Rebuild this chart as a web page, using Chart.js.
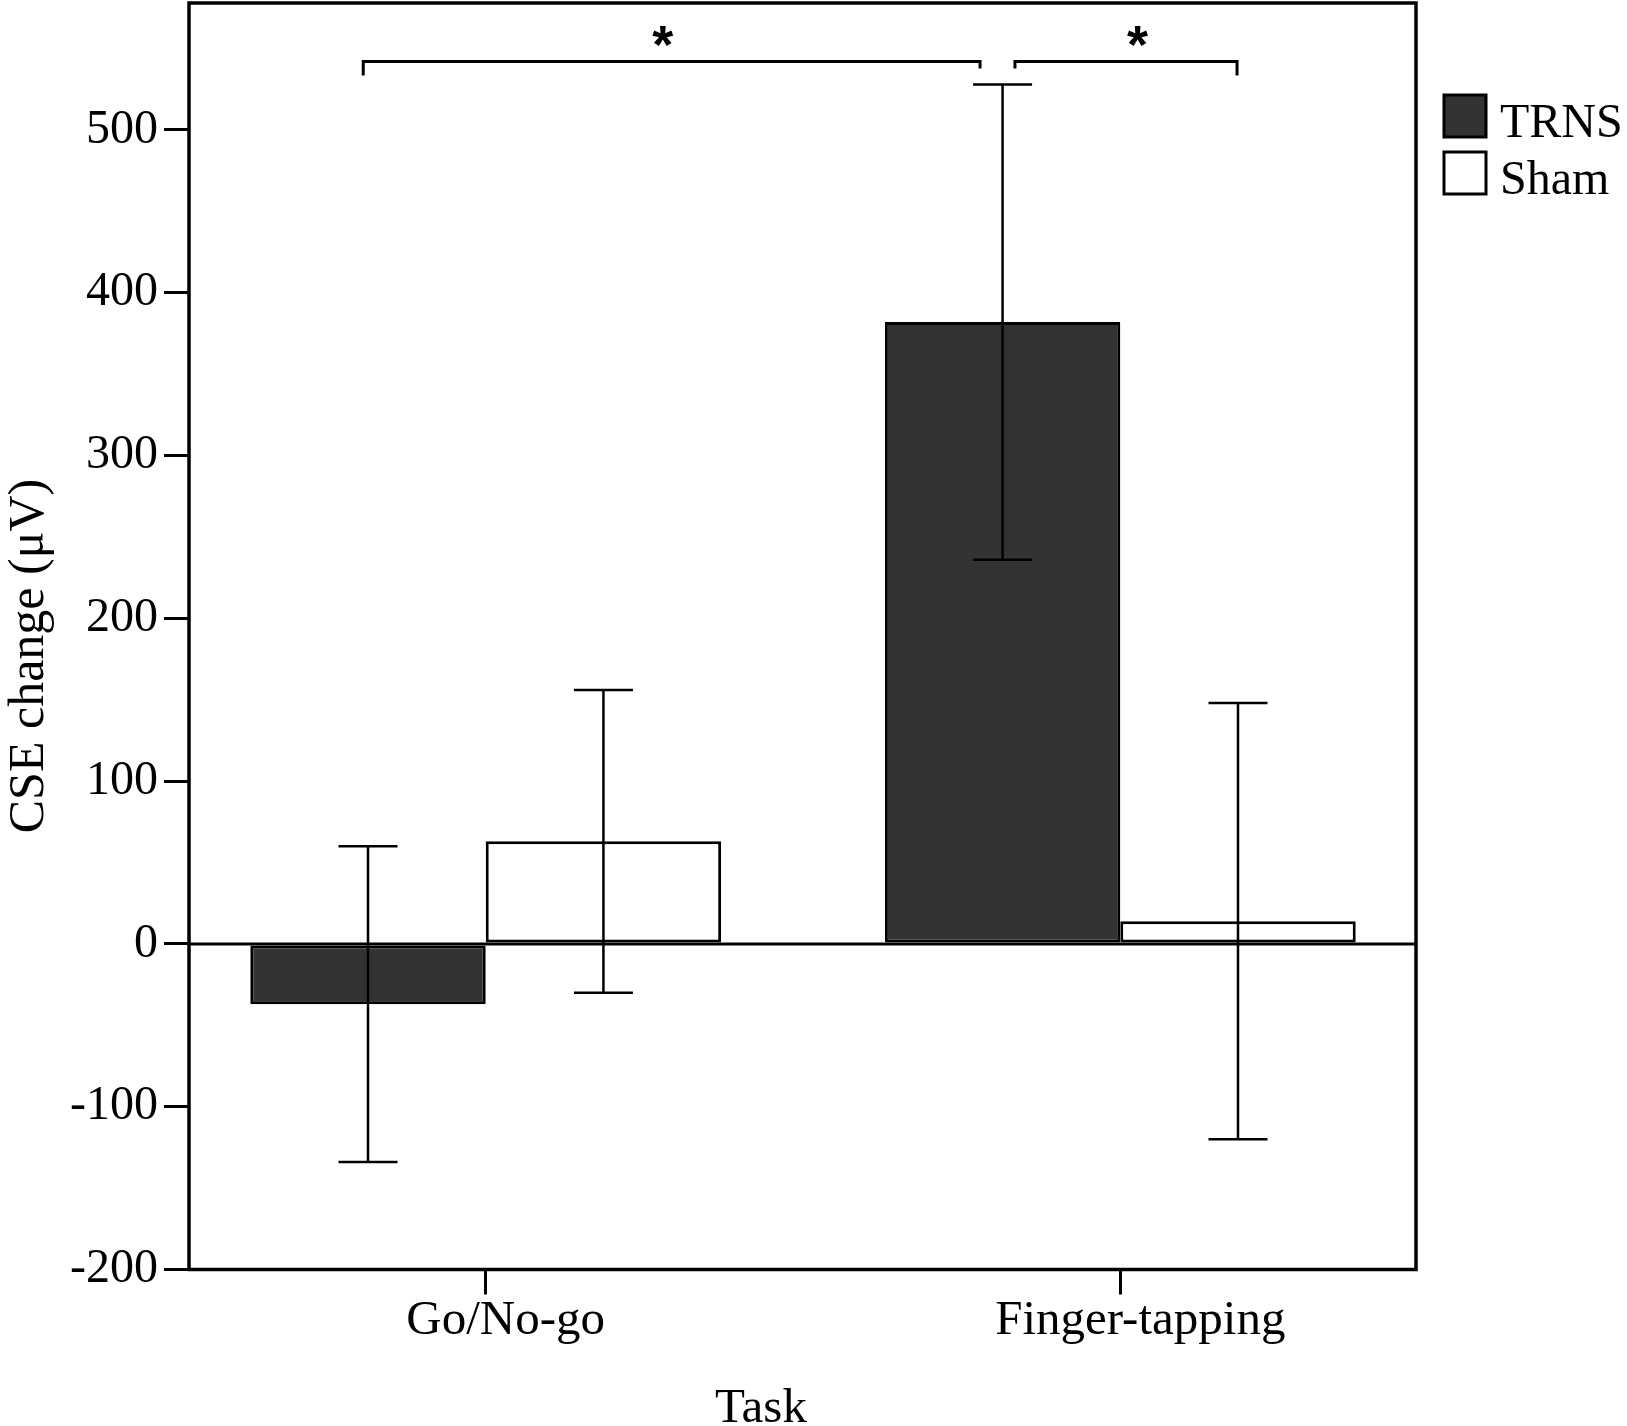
<!DOCTYPE html>
<html>
<head>
<meta charset="utf-8">
<script src="https://cdn.jsdelivr.net/npm/chart.js@4.4.1/dist/chart.umd.min.js"></script>
<style>
  body { margin: 0; background: #fff; }
  #wrap { width: 1627px; height: 1426px; }
</style>
</head>
<body>
<div id="wrap"><canvas id="cseChart" width="1627" height="1426"></canvas></div>
<script>
const tasks = ['Go/No-go', 'Finger-tapping'];
const trnsMeans = [-37, 382];
const trnsErrors = [97, 146];
const shamMeans = [63, 14];
const shamErrors = [93, 134];
const yTicks = [-200, -100, 0, 100, 200, 300, 400, 500];

// significance brackets (x in task units, y in µV), outer drops are longer
const brackets = [
  { from: -0.193, to: 0.779, y: 542, drops: [14, 7], star: 0.279 },
  { from: 0.834, to: 1.184, y: 542, drops: [7, 14], star: 1.027 }
];

const FONT = '"Liberation Serif", "Times New Roman", serif';

function line(ctx, x1, y1, x2, y2) {
  ctx.beginPath();
  ctx.moveTo(x1, y1);
  ctx.lineTo(x2, y2);
  ctx.stroke();
}

const decorations = {
  id: 'decorations',
  afterDatasetsDraw(chart) {
    const { ctx, chartArea: a, scales: { x, y } } = chart;
    ctx.save();
    ctx.strokeStyle = '#000';
    ctx.lineCap = 'butt';

    // zero line
    ctx.lineWidth = 3;
    const y0 = y.getPixelForValue(0);
    line(ctx, a.left, y0, a.right, y0);

    // error bars
    ctx.lineWidth = 2.5;
    const cap = 29.5;
    chart.data.datasets.forEach((ds, i) => {
      chart.getDatasetMeta(i).data.forEach((bar, j) => {
        const v = ds.data[j].y;
        const e = ds.errors[j];
        const top = y.getPixelForValue(v + e);
        const bot = y.getPixelForValue(v - e);
        line(ctx, bar.x, top, bar.x, bot);
        line(ctx, bar.x - cap, top, bar.x + cap, top);
        line(ctx, bar.x - cap, bot, bar.x + cap, bot);
      });
    });

    // brackets and stars
    ctx.lineWidth = 3;
    ctx.fillStyle = '#000';
    ctx.font = 'bold 54px "Liberation Sans", Arial, sans-serif';
    ctx.textAlign = 'center';
    ctx.textBaseline = 'alphabetic';
    brackets.forEach(b => {
      const x1 = x.getPixelForValue(b.from);
      const x2 = x.getPixelForValue(b.to);
      const yb = y.getPixelForValue(b.y);
      ctx.beginPath();
      ctx.moveTo(x1, yb + b.drops[0]);
      ctx.lineTo(x1, yb);
      ctx.lineTo(x2, yb);
      ctx.lineTo(x2, yb + b.drops[1]);
      ctx.stroke();
      ctx.fillText('*', x.getPixelForValue(b.star), yb + 1);
    });

    // frame
    ctx.lineWidth = 3.5;
    ctx.strokeRect(a.left, a.top, a.right - a.left, a.bottom - a.top);
    ctx.restore();
  },
  afterDraw(chart) {
    const { ctx } = chart;
    ctx.save();
    ctx.strokeStyle = '#000';

    // legend
    chart.data.datasets.forEach((ds, i) => {
      const top = 95 + i * 57;
      ctx.fillStyle = ds.backgroundColor;
      ctx.fillRect(1444, top, 42, 42);
      ctx.lineWidth = 3;
      ctx.strokeRect(1444, top, 42, 42);
      ctx.fillStyle = '#000';
      ctx.font = '48px ' + FONT;
      ctx.textAlign = 'left';
      ctx.textBaseline = 'alphabetic';
      ctx.fillText(ds.label, 1500, top + 42);
    });

    // axis titles
    ctx.fillStyle = '#000';
    ctx.font = '49px ' + FONT;
    ctx.textAlign = 'center';
    ctx.textBaseline = 'alphabetic';
    ctx.fillText('Task', 761, 1422);

    ctx.translate(43, 656);
    ctx.rotate(-Math.PI / 2);
    ctx.font = '50px ' + FONT;
    ctx.fillText('CSE change (\u03BCV)', 0, 0);
    ctx.restore();
  }
};

const axisGrid = {
  display: true,
  drawOnChartArea: false,
  drawTicks: true,
  tickLength: 25,
  color: '#000',
  lineWidth: 3,
  offset: false
};

new Chart(document.getElementById('cseChart'), {
  type: 'bar',
  data: {
    datasets: [
      {
        label: 'TRNS',
        data: trnsMeans.map((v, i) => ({ x: i, y: v })),
        errors: trnsErrors,
        backgroundColor: '#333333',
        borderColor: '#000000',
        borderWidth: 3,
        borderSkipped: false,
        categoryPercentage: 0.742,
        barPercentage: 1
      },
      {
        label: 'Sham',
        data: shamMeans.map((v, i) => ({ x: i, y: v })),
        errors: shamErrors,
        backgroundColor: '#ffffff',
        borderColor: '#000000',
        borderWidth: 3,
        borderSkipped: false,
        categoryPercentage: 0.742,
        barPercentage: 1
      }
    ]
  },
  options: {
    responsive: false,
    animation: false,
    devicePixelRatio: 1,
    layout: { padding: { left: 0, top: 3, right: 211, bottom: 0 } },
    plugins: {
      legend: { display: false },
      tooltip: { enabled: false }
    },
    scales: {
      x: {
        type: 'linear',
        min: -0.4676,
        max: 1.466,
        offset: false,
        afterBuildTicks: s => { s.ticks = tasks.map((t, i) => ({ value: i })); },
        afterFit: s => {
          s.height = 156.5;
          s.paddingLeft = 0;
          s.paddingRight = 0;
        },
        grid: axisGrid,
        border: { display: false },
        ticks: {
          callback: v => tasks[v],
          color: '#000',
          font: { family: FONT, size: 49, lineHeight: 1 },
          padding: 2,
          labelOffset: 20,
          maxRotation: 0,
          autoSkip: false
        }
      },
      y: {
        min: -200,
        max: 578,
        afterBuildTicks: s => { s.ticks = yTicks.map(v => ({ value: v })); },
        afterFit: s => {
          s.width = 189;
          s.paddingTop = 0;
          s.paddingBottom = 0;
        },
        grid: axisGrid,
        border: { display: false },
        ticks: {
          color: '#000',
          font: { family: FONT, size: 48 },
          padding: 6
        }
      }
    }
  },
  plugins: [decorations]
});
</script>
</body>
</html>
